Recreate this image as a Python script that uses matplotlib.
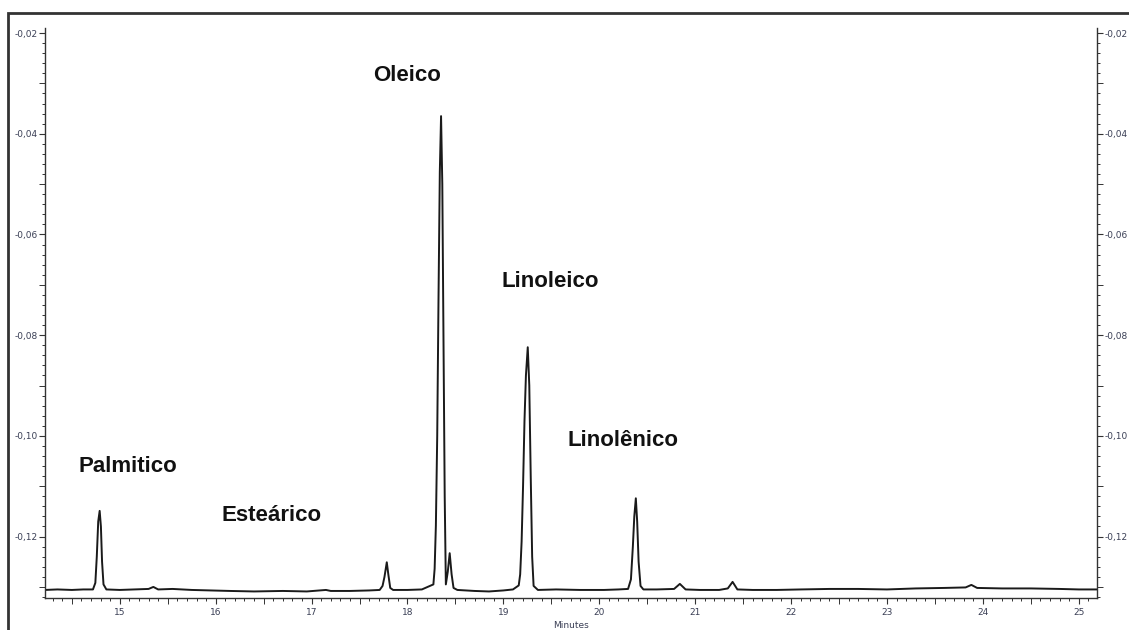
import numpy as np
import matplotlib
matplotlib.use("Agg")
import matplotlib.pyplot as plt
from matplotlib.ticker import MultipleLocator, FuncFormatter
from matplotlib.patches import Rectangle

# retention time (min) and detector signal
t = [14.22, 14.35, 14.50, 14.62, 14.72, 14.745, 14.76, 14.775, 14.79, 14.803, 14.815, 14.83, 14.86,
     15.00, 15.15, 15.30, 15.35, 15.40, 15.55, 15.75, 15.95, 16.15, 16.40, 16.70, 16.95, 17.15, 17.20,
     17.40, 17.60, 17.71, 17.74, 17.76, 17.784, 17.80, 17.82, 17.85, 18.00, 18.15,
     18.27, 18.283, 18.296, 18.31, 18.323, 18.337, 18.35, 18.363, 18.375, 18.388, 18.40,
     18.42, 18.44, 18.46, 18.48, 18.52, 18.70, 18.85, 19.00, 19.10,
     19.16, 19.175, 19.19, 19.205, 19.22, 19.235, 19.254, 19.27, 19.285, 19.30, 19.315, 19.36,
     19.55, 19.80, 20.05, 20.20, 20.30, 20.33, 20.35, 20.365, 20.381, 20.395, 20.41, 20.43, 20.46,
     20.60, 20.78, 20.84, 20.90, 21.05, 21.25, 21.34, 21.39, 21.44, 21.60, 21.85, 22.10, 22.40,
     22.70, 23.00, 23.30, 23.60, 23.82, 23.88, 23.94, 24.20, 24.50, 24.80, 25.00, 25.19]
signal = [-0.1306, -0.1305, -0.1306, -0.1305, -0.1305, -0.1292, -0.1240, -0.1170, -0.1149, -0.1180,
          -0.1250, -0.1295, -0.1305,
          -0.1306, -0.1305, -0.1304, -0.1300, -0.1305, -0.1304, -0.1306, -0.1307, -0.1308, -0.1309,
          -0.1308, -0.1309, -0.1306, -0.1308,
          -0.1308, -0.1307, -0.1306, -0.1298, -0.1280, -0.1251, -0.1275, -0.1302, -0.1306, -0.1306,
          -0.1305,
          -0.1295, -0.1264, -0.1178, -0.1000, -0.0735, -0.0476, -0.0365, -0.0500, -0.0800, -0.1120,
          -0.1295,
          -0.1270, -0.1233, -0.1275, -0.1302, -0.1306, -0.1308, -0.1309, -0.1307, -0.1305,
          -0.1297, -0.1275, -0.1210, -0.1100, -0.0970, -0.0880, -0.0824, -0.0900, -0.1080, -0.1240,
          -0.1298, -0.1306,
          -0.1305, -0.1306, -0.1306, -0.1305, -0.1304, -0.1285, -0.1220, -0.1160, -0.1124, -0.1170,
          -0.1250, -0.1298, -0.1305,
          -0.1305, -0.1304, -0.1294, -0.1305, -0.1306, -0.1306, -0.1303, -0.1290, -0.1305, -0.1306,
          -0.1306, -0.1305, -0.1304,
          -0.1304, -0.1305, -0.1303, -0.1302, -0.1301, -0.1296, -0.1302, -0.1303, -0.1303, -0.1304,
          -0.1305, -0.1305]

# peak names and where they are written
peak_names = ["Palmitico", "Esteárico", "Oleico", "Linoleico", "Linolênico"]
name_x = [15.08, 16.58, 18.00, 19.49, 20.25]
name_y = [-0.1060, -0.1159, -0.0285, -0.0694, -0.1010]

fig = plt.figure(figsize=(11.29, 6.30), dpi=100)
ax = fig.add_axes([45 / 1129, 32 / 630, 1052 / 1129, 570 / 630])

ax.plot(t, signal, color="#1a1a1a", lw=1.4)

ax.set_xlim(14.22, 25.19)
ax.set_ylim(-0.1322, -0.0190)

ax.spines["top"].set_visible(False)
for s in ["left", "right", "bottom"]:
    ax.spines[s].set_color("#333333")
    ax.spines[s].set_linewidth(1.0)

ax.xaxis.set_major_locator(MultipleLocator(1))
ax.xaxis.set_minor_locator(MultipleLocator(0.1))
ax.yaxis.set_major_locator(MultipleLocator(0.02))
ax.yaxis.set_minor_locator(MultipleLocator(0.002))
ax.yaxis.set_major_formatter(FuncFormatter(lambda v, p: f"{v:.2f}".replace(".", ",")))

ax.tick_params(axis="both", which="major", direction="out", length=4, width=0.8,
               colors="#333333", labelsize=6.5, labelcolor="#3a3f55", pad=1.5)
ax.tick_params(axis="both", which="minor", direction="out", length=2, width=0.7, colors="#333333")
ax.tick_params(axis="y", which="both", right=True, labelright=True)
ax.tick_params(axis="x", which="major", pad=3)

# half-unit ticks drawn a bit longer
for loc, tk in zip(ax.xaxis.get_minorticklocs(), ax.xaxis.get_minor_ticks()):
    if abs(loc * 2 - round(loc * 2)) < 1e-6:
        tk.tick1line.set_markersize(4)
for loc, tk in zip(ax.yaxis.get_minorticklocs(), ax.yaxis.get_minor_ticks()):
    if abs(loc * 100 - round(loc * 100)) < 1e-6:
        tk.tick1line.set_markersize(4)
        tk.tick2line.set_markersize(4)

ax.set_xlabel("Minutes", fontsize=6.5, color="#3a3f55", labelpad=3)

for name, x, y in zip(peak_names, name_x, name_y):
    ax.text(x, y, name, fontsize=16, fontweight="bold", family=["Liberation Sans", "DejaVu Sans"],
            color="#111111", ha="center", va="center")

# frame around the whole picture
fig.patches.append(Rectangle((8 / 1129, -0.05), 1.2, 1.05 - 13 / 630, transform=fig.transFigure,
                             fill=False, edgecolor="#333333", linewidth=2.0))

fig.savefig("out.png", dpi=100)
